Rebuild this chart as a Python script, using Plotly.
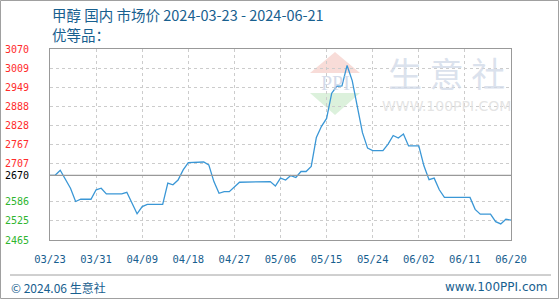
import plotly.graph_objects as go

# ---------------- data ----------------
dates = [
    "2024-03-23", "2024-03-24", "2024-03-25", "2024-03-26", "2024-03-27", "2024-03-28",
    "2024-03-29", "2024-03-31", "2024-04-01", "2024-04-02", "2024-04-03", "2024-04-06",
    "2024-04-07", "2024-04-09", "2024-04-10", "2024-04-11", "2024-04-14", "2024-04-15",
    "2024-04-16", "2024-04-17", "2024-04-18", "2024-04-19", "2024-04-21", "2024-04-22",
    "2024-04-23", "2024-04-24", "2024-04-25", "2024-04-26", "2024-04-27", "2024-04-29",
    "2024-05-05", "2024-05-06", "2024-05-07", "2024-05-08", "2024-05-09", "2024-05-10",
    "2024-05-11", "2024-05-12", "2024-05-13", "2024-05-14", "2024-05-15", "2024-05-16",
    "2024-05-17", "2024-05-18", "2024-05-19", "2024-05-20", "2024-05-21", "2024-05-22",
    "2024-05-23", "2024-05-24", "2024-05-25", "2024-05-27", "2024-05-28", "2024-05-29",
    "2024-05-30", "2024-05-31", "2024-06-01", "2024-06-03", "2024-06-04", "2024-06-05",
    "2024-06-06", "2024-06-07", "2024-06-08", "2024-06-13", "2024-06-14", "2024-06-15",
    "2024-06-17", "2024-06-18", "2024-06-19", "2024-06-20", "2024-06-21",
]
prices = [
    2670, 2670, 2686, 2655, 2629, 2587,
    2594, 2594, 2624, 2629, 2611, 2611,
    2616, 2548, 2571, 2578, 2578, 2645,
    2640, 2655, 2687, 2710, 2712, 2712,
    2703, 2650, 2613, 2618, 2618, 2648,
    2650, 2636, 2661, 2655, 2669, 2663,
    2682, 2682, 2698, 2790, 2825, 2850,
    2930, 2952, 2953, 3018, 2970, 2890,
    2805, 2756, 2748, 2748, 2769, 2796,
    2788, 2801, 2763, 2763, 2700, 2656,
    2661, 2624, 2600, 2600, 2562, 2547,
    2547, 2523, 2516, 2531, 2528,
]

base_price = 2670
y_min, y_max = 2465, 3070
y_tick_vals = [3070, 3009.5, 2949, 2888.5, 2828, 2767.5, 2707, 2670, 2586, 2525.5, 2465]
y_tick_left = ["3070", "3009", "2949", "2888", "2828", "2767", "2707", "2670", "2586", "2525", "2465"]
y_tick_right = ["15.00%", "12.73%", "10.47%", "8.20%", "5.93%", "3.67%", "1.40%",
                "0.00%", "-3.13%", "-5.40%", "-7.66%"]

x_tick_vals = ["2024-03-23", "2024-04-01", "2024-04-10", "2024-04-19", "2024-04-28",
               "2024-05-07", "2024-05-16", "2024-05-25", "2024-06-03", "2024-06-12",
               "2024-06-21"]
x_tick_text = ["03/23", "03/31", "04/09", "04/18", "04/27", "05/06", "05/15",
               "05/24", "06/02", "06/11", "06/20"]

title_line1 = "甲醇 国内 市场价 2024-03-23 - 2024-06-21"
title_line2 = "优等品："
footer_left = "© 2024.06 生意社"
footer_right = "www.100PPI.com"

# ---------------- style ----------------
W, H = 560, 300
L, R, T, B = 50, 49, 49, 60
PW, PH = W - L - R, H - T - B
RED, GREEN, BLACK = "#ff2b2b", "#2fb52f", "#000000"
BLUE_TXT = "#18608f"
LINE = "#3a97d6"
TICK_FONT = "DejaVu Sans Mono"
CJK = "Noto Sans CJK SC"


def px(x):
    return (x - L) / PW


def py(y):
    return (H - B - y) / PH


def colored(labels, vals):
    out = []
    for lab, v in zip(labels, vals):
        c = RED if v > base_price else (GREEN if v < base_price else BLACK)
        out.append(f"<span style='color:{c}'>{lab}</span>")
    return out


fig = go.Figure()
fig.add_trace(go.Scatter(x=dates, y=prices, mode="lines",
                         line=dict(color=LINE, width=1.3), hoverinfo="skip",
                         showlegend=False))

grid = dict(showgrid=True, gridcolor="#cccccc", griddash="3px,3px", gridwidth=1)

fig.update_layout(
    width=W, height=H,
    margin=dict(l=L, r=R, t=T, b=B, autoexpand=False),
    paper_bgcolor="white", plot_bgcolor="white",
    showlegend=False,
    xaxis=dict(type="date", range=["2024-03-23", "2024-06-21"],
               tickmode="array", tickvals=x_tick_vals, ticktext=x_tick_text,
               tickfont=dict(family=TICK_FONT, size=10.5, color=BLUE_TXT),
               showline=True, linecolor="#999999", linewidth=1, mirror=True,
               ticks="", ticklabelstandoff=9, zeroline=False, automargin=False, **grid),
    yaxis=dict(range=[y_min, y_max], tickmode="array", tickvals=y_tick_vals,
               ticktext=colored(y_tick_left, y_tick_vals),
               tickfont=dict(family=TICK_FONT, size=10),
               showline=True, linecolor="#999999", linewidth=1, mirror=True,
               ticks="", ticklabelstandoff=18, zeroline=False, automargin=False, **grid),
    yaxis2=dict(range=[y_min, y_max], overlaying="y", side="right",
                tickmode="array", tickvals=y_tick_vals,
                ticktext=colored(y_tick_right, y_tick_vals),
                tickfont=dict(family=TICK_FONT, size=10),
                showgrid=False, showline=False, zeroline=False,
                ticks="", ticklabelstandoff=4, automargin=False),
)

shapes = [
    # base line (0%)
    dict(type="line", xref="paper", yref="y", x0=0, x1=1, y0=base_price, y1=base_price,
         line=dict(color="#999999", width=1.2), layer="above"),
    # outer frame
    dict(type="rect", xref="paper", yref="paper", x0=px(0.5), x1=px(558.5),
         y0=py(298.5), y1=py(0.5), line=dict(color="#a0a0a0", width=1)),
    # footer separator
    dict(type="line", xref="paper", yref="paper", x0=px(10), x1=px(551),
         y0=py(275), y1=py(275), line=dict(color="#a0a0a0", width=1)),
    # watermark logo triangles
    dict(type="path", xref="paper", yref="paper", layer="below",
         path=f"M {px(310)},{py(73)} L {px(335)},{py(52)} L {px(360)},{py(73)} Z",
         fillcolor="rgba(245,205,200,0.7)", line=dict(width=0)),
    dict(type="path", xref="paper", yref="paper", layer="below",
         path=f"M {px(310)},{py(93)} L {px(335)},{py(115)} L {px(360)},{py(93)} Z",
         fillcolor="rgba(205,235,205,0.7)", line=dict(width=0)),
]
fig.update_layout(shapes=shapes)

ann = [
    dict(text=title_line1, x=px(50), y=py(15), xanchor="left", yanchor="middle",
         font=dict(family=CJK, size=14.5, color=BLUE_TXT)),
    dict(text=title_line2, x=px(50), y=py(34), xanchor="left", yanchor="middle",
         font=dict(family=CJK, size=14.5, color=BLUE_TXT)),
    dict(text=footer_left, x=px(9), y=py(287), xanchor="left", yanchor="middle",
         font=dict(family=CJK, size=12, color=BLUE_TXT)),
    dict(text=footer_right, x=px(550), y=py(287), xanchor="right", yanchor="middle",
         font=dict(family="DejaVu Sans", size=12, color=BLUE_TXT)),
    # watermark
    dict(text="PPI", x=px(335), y=py(83), xanchor="center", yanchor="middle",
         font=dict(family="Liberation Serif", size=20, color="rgba(200,210,228,0.8)")),
    dict(text="生 意 社", x=px(446), y=py(72), xanchor="center", yanchor="middle",
         font=dict(family=CJK, size=34, color="rgba(210,218,232,0.8)")),
    dict(text="WWW.100PPI.COM", x=px(446), y=py(106), xanchor="center", yanchor="middle",
         font=dict(family="DejaVu Sans", size=14, color="rgba(225,225,225,0.9)")),
]
for a in ann:
    a.update(xref="paper", yref="paper", showarrow=False)
fig.update_layout(annotations=ann)

fig.write_html("out.html")
